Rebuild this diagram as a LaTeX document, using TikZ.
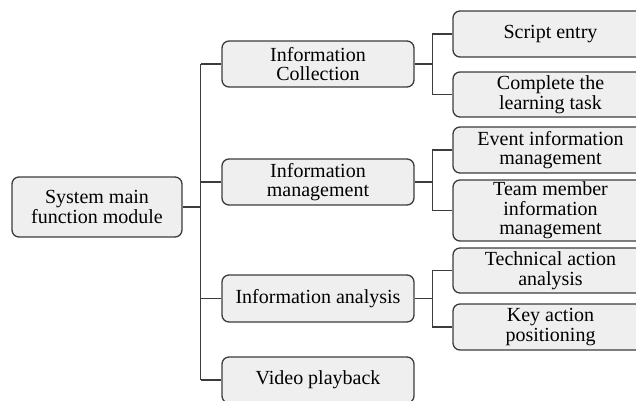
\documentclass[tikz,border=0pt]{standalone}
\usepackage{fontspec}
\setmainfont{Liberation Serif}
\usepackage{tikz}
\usetikzlibrary{positioning}

\definecolor{boxfill}{HTML}{EFEFEF}
\definecolor{boxline}{HTML}{3C3C3C}
\tikzset{
  modbox/.style={draw=boxline, fill=boxfill, rounded corners=7pt, line width=1.3pt,
    align=center, inner sep=0pt, font=\fontsize{20}{19.5}\selectfont},
  link/.style={draw=boxline, line width=1.3pt}
}

\begin{document}
\begin{tikzpicture}[x=1pt,y=-1pt]
  \useasboundingbox (0,0) rectangle (636,400);
  \clip (0,0) rectangle (636,400);
  % Root module
  \node[modbox, minimum width=170pt, minimum height=60pt] (sys) at (97,207) {System main\\function module};
  % First level modules
  \node[modbox, minimum width=192pt, minimum height=46pt] (coll) at (318,64) {Information\\Collection};
  \node[modbox, minimum width=192pt, minimum height=46pt] (mgmt) at (318,182) {Information\\management};
  \node[modbox, minimum width=192pt, minimum height=47pt] (anal) at (318,298.5) {Information analysis};
  \node[modbox, minimum width=192pt, minimum height=46pt] (video) at (318,380) {Video playback};
  % Second level modules
  \node[modbox, minimum width=195pt, minimum height=46pt] (script) at (550.5,34) {Script entry};
  \node[modbox, minimum width=195pt, minimum height=45pt] (task) at (550.5,94.5) {Complete the\\learning task};
  \node[modbox, minimum width=195pt, minimum height=46pt] (event) at (550.5,150) {Event information\\management};
  \node[modbox, minimum width=195pt, minimum height=61pt] (team) at (550.5,210.5) {Team member\\information\\management};
  \node[modbox, minimum width=195pt, minimum height=45pt] (tech) at (550.5,270.5) {Technical action\\analysis};
  \node[modbox, minimum width=195pt, minimum height=46pt] (keypos) at (550.5,327) {Key action\\positioning};
  % Trunk from the root
  \draw[link] (sys.east) -- ++(18,0) coordinate (t0);
  \draw[link] (t0 |- coll.west) -- (t0 |- video.west);
  \foreach \n in {coll,mgmt,anal,video} {
    \draw[link] (t0 |- \n.west) -- (\n.west);
  }
  % Branches to the second level
  \foreach \p/\a/\b in {coll/script/task, mgmt/event/team, anal/tech/keypos} {
    \draw[link] (\p.east) -- ++(18,0) coordinate (t) (\a.west) -| (t) |- (\b.west);
  }
\end{tikzpicture}
\end{document}
